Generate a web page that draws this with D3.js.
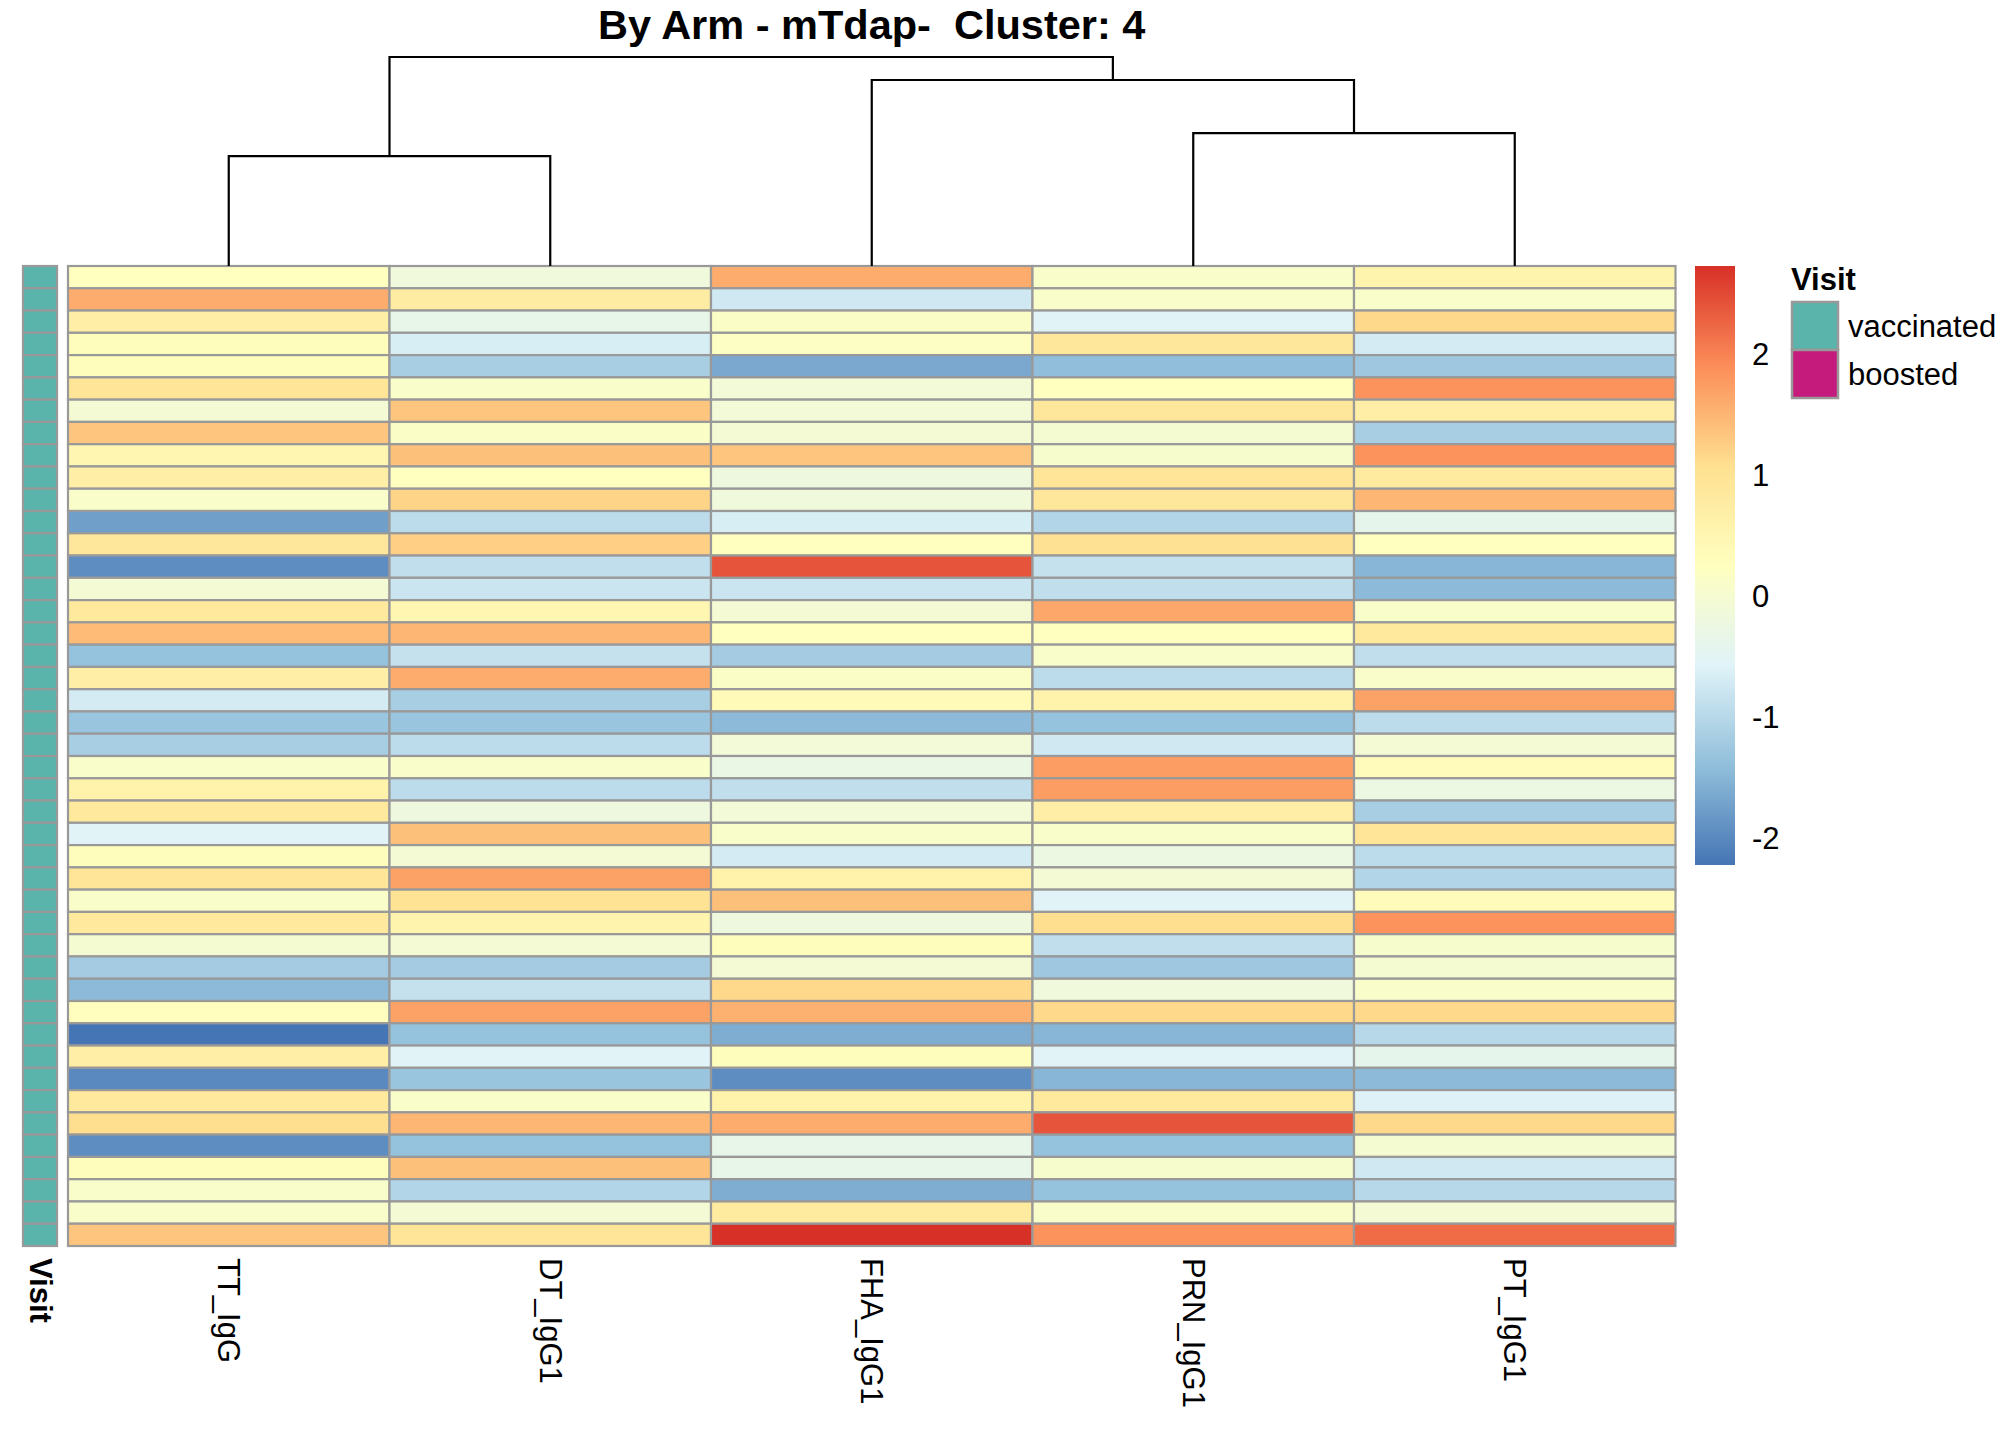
<!DOCTYPE html>
<html>
<head>
<meta charset="utf-8">
<script src="https://d3js.org/d3.v7.min.js"></script>
<style>
  body { margin: 0; background: #fff; }
  text { font-family: "Liberation Sans", Arial, sans-serif; white-space: pre; }
</style>
</head>
<body>
<svg id="heatmap"></svg>
<script>
// Columns (order after clustering) and values per column, top row first
const columns = ["TT_IgG", "DT_IgG1", "FHA_IgG1", "PRN_IgG1", "PT_IgG1"];

const ttIgG = [0.25, 1.6, 0.7, 0.3, 0.3, 0.95, -0.05, 1.35, 0.5, 0.7, 0.1,
               -1.75, 0.9, -1.95, -0.05, 0.85, 1.45, -1.35, 0.7, -0.7, -1.3, -1.15,
               0.1, 0.6, 0.85, -0.55, 0.3, 0.95, 0.1, 0.85, 0.0, -1.2, -1.45,
               0.28, -2.22, 0.7, -2.0, 0.85, 1.1, -1.95, 0.3, 0.1, 0.1, 1.35];
const dtIgG1 = [-0.15, 0.75, -0.35, -0.65, -1.15, 0.1, 1.35, 0.15, 1.4, 0.25, 1.2,
                -0.95, 1.25, -0.9, -0.8, 0.5, 1.5, -0.85, 1.6, -1.15, -1.3, -0.95,
                0.1, -0.95, -0.2, 1.4, -0.05, 1.7, 1.0, 0.55, -0.05, -1.2, -0.85,
                1.7, -1.35, -0.55, -1.3, 0.1, 1.5, -1.35, 1.4, -1.05, -0.05, 0.95];
const fhaIgG1 = [1.6, -0.75, 0.15, 0.2, -1.65, -0.1, -0.1, -0.05, 1.35, -0.2, -0.15,
                 -0.65, 0.25, 2.4, -0.8, -0.05, 0.25, -1.2, 0.15, 0.4, -1.45, -0.1,
                 -0.3, -0.9, -0.1, 0.1, -0.7, 0.6, 1.4, -0.2, 0.3, -0.05, 1.15,
                 1.55, -1.6, 0.3, -1.95, 0.6, 1.6, -0.35, -0.35, -1.6, 0.8, 2.73];
const prnIgG1 = [0.1, 0.1, -0.55, 0.9, -1.4, 0.25, 0.9, 0.0, 0.05, 0.95, 0.9,
                 -1.05, 1.05, -0.85, -0.9, 1.65, 0.25, 0.1, -0.95, 0.6, -1.35, -0.75,
                 1.75, 1.75, 0.7, 0.1, -0.25, -0.05, -0.55, 1.1, -0.9, -1.25, -0.15,
                 1.15, -1.5, -0.55, -1.5, 0.85, 2.4, -1.35, 0.05, -1.35, 0.1, 1.85];
const ptIgG1 = [0.55, 0.1, 1.15, -0.7, -1.25, 1.85, 0.7, -1.15, 1.85, 0.8, 1.5,
                -0.4, 0.25, -1.5, -1.45, 0.1, 0.85, -0.9, 0.1, 1.7, -0.95, -0.05,
                0.35, -0.25, -1.15, 0.95, -0.95, -1.05, 0.35, 1.85, 0.05, 0.0, 0.1,
                1.15, -1.0, -0.4, -1.45, -0.6, 1.15, 0.0, -0.75, -1.0, -0.05, 2.2];

const visit = ["vaccinated", "vaccinated", "vaccinated", "vaccinated", "vaccinated", "vaccinated",
               "vaccinated", "vaccinated", "vaccinated", "vaccinated", "vaccinated", "vaccinated",
               "vaccinated", "vaccinated", "vaccinated", "vaccinated", "vaccinated", "vaccinated",
               "vaccinated", "vaccinated", "vaccinated", "vaccinated", "vaccinated", "vaccinated",
               "vaccinated", "vaccinated", "vaccinated", "vaccinated", "vaccinated", "vaccinated",
               "vaccinated", "vaccinated", "vaccinated", "vaccinated", "vaccinated", "vaccinated",
               "vaccinated", "vaccinated", "vaccinated", "vaccinated", "vaccinated", "vaccinated",
               "vaccinated", "vaccinated"];
const visitLevels = ["vaccinated", "boosted"];
const visitColors = ["#5AB4AC", "#C51B7D"];

// Column dendrogram, hclust style: negative = leaf index (1-based), positive = earlier merge
const merge = [[-1, -2], [-4, -5], [-3, 2], [1, 3]];
const mergeHeight = [0.526, 0.636, 0.89, 1.0];

const legendTicks = [-2, -1, 0, 1, 2];
const palette = ["#4575B4", "#91BFDB", "#E0F3F8", "#FFFFBF", "#FEE090", "#FC8D59", "#D73027"];
const title = "By Arm - mTdap-  Cluster: 4";

const series = [ttIgG, dtIgG1, fhaIgG1, prnIgG1, ptIgG1];
const nRows = ttIgG.length;
const cells = [];
series.forEach((vals, c) => vals.forEach((v, r) => cells.push({ col: columns[c], row: r, value: v })));

const W = 2016, H = 1440;
const svg = d3.select("#heatmap").attr("width", W).attr("height", H);
svg.append("rect").attr("width", W).attr("height", H).attr("fill", "#fff");

const hm = { left: 68, right: 1675.5, top: 266, bottom: 1246 };

const x = d3.scaleBand().domain(columns).range([hm.left, hm.right]);
const y = d3.scaleBand().domain(d3.range(nRows)).range([hm.top, hm.bottom]);

const vmin = d3.min(cells, d => d.value), vmax = d3.max(cells, d => d.value);
const color = d3.scaleLinear()
    .domain(palette.map((p, i) => vmin + (vmax - vmin) * i / (palette.length - 1)))
    .range(palette)
    .interpolate(d3.interpolateRgb);

// Cells
svg.append("g").selectAll("rect")
    .data(cells)
    .join("rect")
    .attr("x", d => x(d.col))
    .attr("y", d => y(d.row))
    .attr("width", x.bandwidth())
    .attr("height", y.bandwidth())
    .attr("fill", d => color(d.value))
    .attr("stroke", "#999999")
    .attr("stroke-width", 2.2);

// Visit annotation column
const visitColor = d3.scaleOrdinal().domain(visitLevels).range(visitColors);
const ax = d3.scaleBand().domain(["Visit"]).range([23, 57]);
svg.append("g").selectAll("rect")
    .data(visit)
    .join("rect")
    .attr("x", ax("Visit"))
    .attr("y", (d, i) => y(i))
    .attr("width", ax.bandwidth())
    .attr("height", y.bandwidth())
    .attr("fill", d => visitColor(d))
    .attr("stroke", "#999999")
    .attr("stroke-width", 2.2);

// Column labels
svg.append("g").selectAll("text")
    .data(columns.concat(["Visit"]))
    .join("text")
    .attr("transform", d => d === "Visit"
        ? `translate(${ax("Visit") + ax.bandwidth() / 2}, 1258) rotate(90)`
        : `translate(${x(d) + x.bandwidth() / 2}, 1258) rotate(90)`)
    .attr("dominant-baseline", "central")
    .attr("font-size", 31)
    .attr("font-weight", d => d === "Visit" ? "bold" : "normal")
    .text(d => d);

// Dendrogram
const dy = d3.scaleLinear().domain([0, 1]).range([hm.top, 57]);
const nodes = [];
function nodeOf(k) {
    if (k < 0) return { x: x(columns[-k - 1]) + x.bandwidth() / 2, h: 0 };
    return nodes[k - 1];
}
const dendro = svg.append("g").attr("fill", "none").attr("stroke", "#000").attr("stroke-width", 2.2);
merge.forEach((m, i) => {
    const a = nodeOf(m[0]), b = nodeOf(m[1]), h = mergeHeight[i];
    dendro.append("path")
        .attr("d", `M${a.x},${dy(a.h)}V${dy(h)}H${b.x}V${dy(b.h)}`);
    nodes.push({ x: (a.x + b.x) / 2, h: h });
});

// Title
svg.append("text")
    .attr("x", (hm.left + hm.right) / 2)
    .attr("y", 39)
    .attr("text-anchor", "middle")
    .attr("font-size", 41.5)
    .attr("font-weight", "bold")
    .text(title);

// Color legend
const defs = svg.append("defs");
const grad = defs.append("linearGradient").attr("id", "legend-gradient")
    .attr("x1", "0%").attr("y1", "100%").attr("x2", "0%").attr("y2", "0%");
palette.forEach((p, i) => grad.append("stop")
    .attr("offset", `${100 * i / (palette.length - 1)}%`).attr("stop-color", p));

const ly = d3.scaleLinear().domain([vmin, vmax]).range([865, 266]);
svg.append("rect")
    .attr("x", 1695).attr("y", ly(vmax))
    .attr("width", 40).attr("height", ly(vmin) - ly(vmax))
    .attr("fill", "url(#legend-gradient)");

svg.append("g").selectAll("text")
    .data(legendTicks)
    .join("text")
    .attr("x", 1752)
    .attr("y", d => ly(d))
    .attr("dominant-baseline", "central")
    .attr("font-size", 31)
    .text(d => d);

// Visit legend
const vl = svg.append("g").attr("transform", "translate(1791, 0)");
vl.append("text").attr("x", 0).attr("y", 290)
    .attr("font-size", 31).attr("font-weight", "bold").text("Visit");
const ly2 = d3.scaleBand().domain(visitLevels).range([302, 398]);
vl.selectAll("rect")
    .data(visitLevels)
    .join("rect")
    .attr("x", 1).attr("y", d => ly2(d))
    .attr("width", 46).attr("height", ly2.bandwidth())
    .attr("fill", d => visitColor(d))
    .attr("stroke", "#999999")
    .attr("stroke-width", 2.5);
vl.selectAll(".lab")
    .data(visitLevels)
    .join("text")
    .attr("class", "lab")
    .attr("x", 57)
    .attr("y", d => ly2(d) + ly2.bandwidth() / 2)
    .attr("dominant-baseline", "central")
    .attr("font-size", 31)
    .text(d => d);
</script>
</body>
</html>
